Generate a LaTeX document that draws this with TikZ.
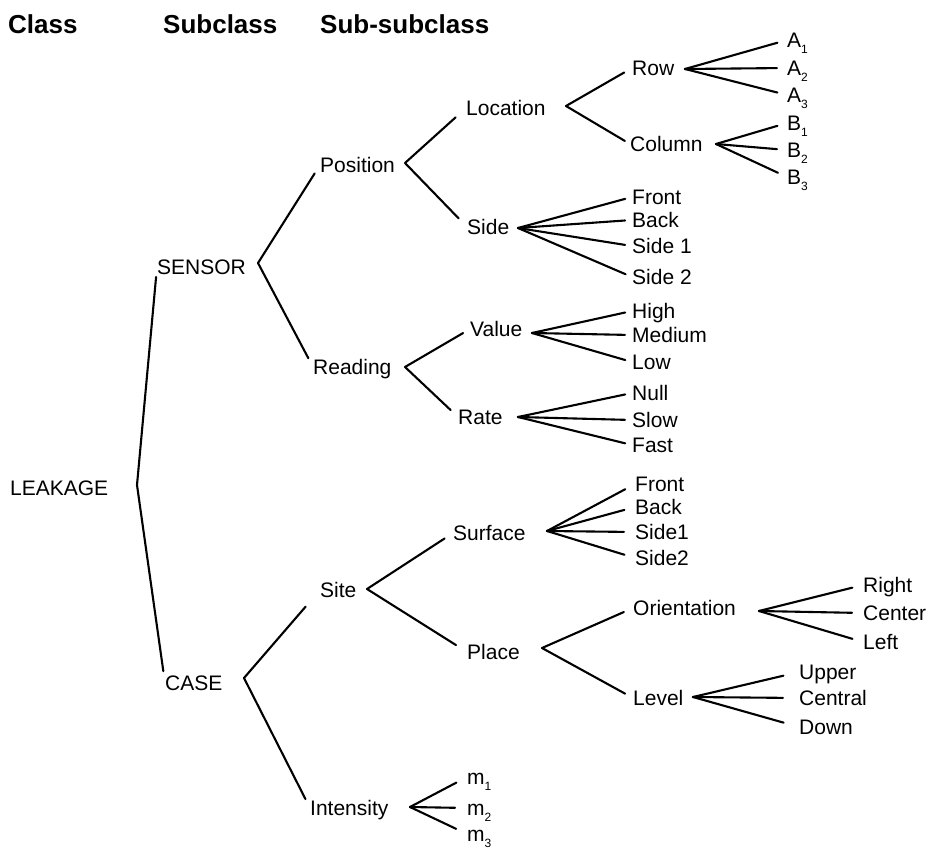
\documentclass[tikz,border=0pt]{standalone}
\usepackage{fontspec}
\setmainfont{Liberation Sans}
\newcommand{\sbs}[1]{\raisebox{-0.28em}{\fontsize{12}{12}\selectfont #1}}
\begin{document}
\begin{tikzpicture}[x=1pt,y=-1pt,
  lbl/.style={anchor=west, inner sep=0pt, text height=15pt, text depth=0pt, font=\fontsize{21}{25}\selectfont},
  hdr/.style={anchor=west, inner sep=0pt, text height=18pt, text depth=0pt, font=\fontsize{26}{30}\selectfont\bfseries},
  link/.style={line width=2.1pt, line cap=round, shorten >=10pt},
]
\useasboundingbox (0,0) rectangle (929,851);
% headers
\node[hdr] (hClass) at (8,25) {Class};
\node[hdr] (hSub) at (163,25) {Subclass};
\node[hdr] (hSubsub) at (320,25) {Sub-subclass};
% main nodes
\node[lbl] (leak) at (10,488) {LEAKAGE};
\node[lbl] (sensor) at (157,267) {SENSOR};
\node[lbl] (case) at (165,683) {CASE};
\node[lbl] (position) at (320,165) {Position};
\node[lbl] (reading) at (313,367) {Reading};
\node[lbl] (site) at (320,590) {Site};
\node[lbl] (intensity) at (310,808) {Intensity};
\node[lbl] (location) at (466,108) {Location};
\node[lbl] (side) at (467,227) {Side};
\node[lbl] (value) at (470,329) {Value};
\node[lbl] (rate) at (458,417) {Rate};
\node[lbl] (surface) at (453,533) {Surface};
\node[lbl] (place) at (467,652) {Place};
\node[lbl] (row) at (632,68) {Row};
\node[lbl] (column) at (630,144) {Column};
\node[lbl] (a1) at (787,40) {A\sbs{1}};
\node[lbl] (a2) at (787,68) {A\sbs{2}};
\node[lbl] (a3) at (787,95) {A\sbs{3}};
\node[lbl] (b1) at (787,123) {B\sbs{1}};
\node[lbl] (b2) at (787,150) {B\sbs{2}};
\node[lbl] (b3) at (787,177) {B\sbs{3}};
\node[lbl] (front) at (632,197) {Front};
\node[lbl] (back) at (632,220) {Back};
\node[lbl] (sideone) at (632,246) {Side 1};
\node[lbl] (sidetwo) at (632,277) {Side 2};
\node[lbl] (high) at (632,311) {High};
\node[lbl] (medium) at (632,335) {Medium};
\node[lbl] (low) at (632,362) {Low};
\node[lbl] (null) at (632,393) {Null};
\node[lbl] (slow) at (632,420) {Slow};
\node[lbl] (fast) at (632,445) {Fast};
\node[lbl] (sfront) at (635,484) {Front};
\node[lbl] (sback) at (635,507) {Back};
\node[lbl] (sside1) at (635,532) {Side1};
\node[lbl] (sside2) at (635,558) {Side2};
\node[lbl] (orient) at (633,608) {Orientation};
\node[lbl] (level) at (633,698) {Level};
\node[lbl] (right) at (863,585) {Right};
\node[lbl] (center) at (863,613) {Center};
\node[lbl] (left) at (863,642) {Left};
\node[lbl] (upper) at (799,672) {Upper};
\node[lbl] (central) at (799,698) {Central};
\node[lbl] (down) at (799,727) {Down};
\node[lbl] (m1) at (467,777) {m\sbs{1}};
\node[lbl] (m2) at (467,808) {m\sbs{2}};
\node[lbl] (m3) at (467,834) {m\sbs{3}};
% branching vertices
\coordinate (vLeak) at (137,485);
\coordinate (vSensor) at (258,263);
\coordinate (vCase) at (244,678);
\coordinate (vPosition) at (405,163);
\coordinate (vReading) at (405,367);
\coordinate (vSite) at (367,589);
\coordinate (vIntensity) at (410,807);
\coordinate (vLocation) at (566,106);
\coordinate (vSide) at (518,228);
\coordinate (vValue) at (532,333);
\coordinate (vRate) at (518,417);
\coordinate (vSurface) at (547,531);
\coordinate (vPlace) at (542,648);
\coordinate (vRow) at (685,69);
\coordinate (vColumn) at (716,144);
\coordinate (vOrient) at (759,611);
\coordinate (vLevel) at (693,697);
% connectors
\draw[link] (vLeak) -- (sensor.west);
\draw[link, shorten >=12pt] (vLeak) -- (case.west);
\draw[link] (vSensor) -- (position.west);
\draw[link] (vSensor) -- (reading.west);
\draw[link, shorten >=22pt] (vCase) -- (site.west);
\draw[link] (vCase) -- (intensity.west);
\draw[link, shorten >=14pt] (vPosition) -- (location.west);
\draw[link, shorten >=12pt] (vPosition) -- (side.west);
\draw[link, shorten >=8pt] (vReading) -- (value.west);
\draw[link] (vReading) -- (rate.west);
\draw[link] (vSite) -- (surface.west);
\draw[link, shorten >=13pt] (vSite) -- (place.west);
\draw[link, shorten >=9pt] (vLocation) -- (row.west);
\draw[link, shorten >=6pt] (vLocation) -- (column.west);
\draw[link] (vPlace) -- (orient.west);
\draw[link, shorten >=9pt] (vPlace) -- (level.west);
\foreach \c in {a1,a2,a3} \draw[link] (vRow) -- (\c.west);
\foreach \c in {b1,b2,b3} \draw[link] (vColumn) -- (\c.west);
\foreach \c in {front,back,sideone,sidetwo} \draw[link, shorten >=7pt] (vSide) -- (\c.west);
\foreach \c in {high,medium,low} \draw[link, shorten >=7pt] (vValue) -- (\c.west);
\foreach \c in {null,slow,fast} \draw[link, shorten >=7pt] (vRate) -- (\c.west);
\foreach \c in {sfront,sback,sside1,sside2} \draw[link, shorten >=11pt] (vSurface) -- (\c.west);
\foreach \c in {right,center,left} \draw[link, shorten >=11pt] (vOrient) -- (\c.west);
\foreach \c in {upper,central,down} \draw[link, shorten >=16pt] (vLevel) -- (\c.west);
\foreach \c in {m1,m2,m3} \draw[link, shorten >=12pt] (vIntensity) -- (\c.west);
\end{tikzpicture}
\end{document}
